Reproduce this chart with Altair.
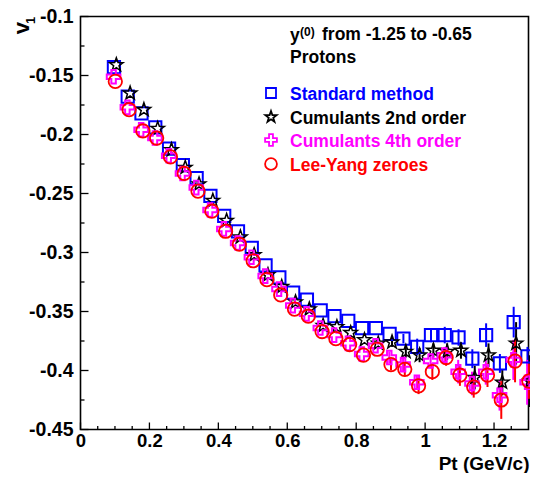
import altair as alt
import pandas as pd

# ---------------- data ----------------
PT = [0.10, 0.14, 0.18, 0.22, 0.26, 0.30, 0.34, 0.38, 0.42, 0.46, 0.50,
      0.54, 0.58, 0.62, 0.66, 0.70, 0.74, 0.78, 0.82, 0.86, 0.90, 0.94,
      0.98, 1.02, 1.06, 1.10, 1.14, 1.18, 1.22, 1.26, 1.30]

STD = [-0.143, -0.168, -0.182, -0.194, -0.212, -0.226, -0.237, -0.252, -0.269, -0.282, -0.296,
       -0.311, -0.321, -0.334, -0.340, -0.349, -0.354, -0.358, -0.364, -0.364, -0.369, -0.373,
       -0.380, -0.370, -0.370, -0.372, -0.390, -0.370, -0.394, -0.359, -0.388]
STD_ERR = [0, 0, 0, 0, 0, 0, 0, 0, 0, 0, 0,
           0, 0, 0, 0, 0, 0, 0, 0, 0, 0, 0.004,
           0.007, 0.006, 0.007, 0.007, 0.008, 0.010, 0.008, 0.013, 0.008]

C2 = [-0.141, -0.165, -0.179, -0.195, -0.213, -0.228, -0.242, -0.256, -0.273, -0.287, -0.302,
      -0.319, -0.329, -0.342, -0.348, -0.362, -0.363, -0.368, -0.374, -0.377, -0.376, -0.384,
      -0.387, -0.383, -0.384, -0.383, -0.406, -0.387, -0.410, -0.377, -0.409]
C2_ERR = [0, 0, 0, 0, 0, 0, 0, 0, 0, 0, 0,
          0, 0, 0, 0, 0, 0, 0, 0, 0, 0.004, 0.005,
          0.006, 0.006, 0.007, 0.007, 0.010, 0.010, 0.011, 0.018, 0.022]

C4 = [-0.151, -0.177, -0.196, -0.203, -0.218, -0.233, -0.245, -0.264, -0.280, -0.292, -0.304,
      -0.320, -0.331, -0.345, -0.352, -0.364, -0.370, -0.377, -0.386, -0.379, -0.389, -0.395,
      -0.410, -0.392, -0.387, -0.401, -0.411, -0.401, -0.421, -0.391, -0.410]
C4_ERR = [0, 0, 0, 0, 0, 0, 0, 0, 0, 0, 0,
          0, 0, 0, 0, 0, 0, 0, 0, 0, 0.005, 0.006,
          0.006, 0.006, 0.007, 0.010, 0.010, 0.011, 0.013, 0.017, 0.019]

LYZ = [-0.155, -0.179, -0.197, -0.203, -0.219, -0.233, -0.248, -0.265, -0.282, -0.293, -0.307,
       -0.323, -0.336, -0.348, -0.354, -0.367, -0.373, -0.378, -0.387, -0.382, -0.395, -0.399,
       -0.413, -0.401, -0.389, -0.404, -0.414, -0.404, -0.425, -0.392, -0.409]
LYZ_ERR = [0, 0, 0, 0, 0, 0, 0, 0, 0, 0, 0,
           0, 0, 0, 0, 0, 0, 0, 0, 0, 0.005, 0.006,
           0.007, 0.007, 0.007, 0.009, 0.009, 0.010, 0.016, 0.018, 0.015]

SERIES = ["Standard method", "Cumulants 2nd order", "Cumulants 4th order", "Lee-Yang zeroes"]
COLORS = ["#0000ff", "#000000", "#ff00ff", "#ff0000"]

X_MAJOR = [0, 0.2, 0.4, 0.6, 0.8, 1, 1.2]
X_MINOR = [0.05, 0.1, 0.15, 0.25, 0.3, 0.35, 0.45, 0.5, 0.55, 0.65, 0.7, 0.75,
           0.85, 0.9, 0.95, 1.05, 1.1, 1.15, 1.25]
Y_MAJOR = [-0.45, -0.4, -0.35, -0.3, -0.25, -0.2, -0.15, -0.1]
Y_MINOR = [-0.425, -0.375, -0.325, -0.275, -0.225, -0.175, -0.125]

# ---------------- styling ----------------
FONT = "Liberation Sans"
W, H = 448, 413

STAR = ("M0,-1L0.235,-0.324L0.951,-0.309L0.380,0.124L0.588,0.809L0,0.4"
        "L-0.588,0.809L-0.380,0.124L-0.951,-0.309L-0.235,-0.324Z")
PLUS = ("M-0.33,-1L0.33,-1L0.33,-0.33L1,-0.33L1,0.33L0.33,0.33L0.33,1L-0.33,1"
        "L-0.33,0.33L-1,0.33L-1,-0.33L-0.33,-0.33Z")

SHAPES = ["square", STAR, PLUS, "circle"]
SIZES = [150, 200, 185, 180]
LEG_SIZES = [100, 140, 140, 140]
SW = [2.0, 1.5, 2.0, 1.8]
SHIFT = [-0.003, 0.004, -0.004, 0.001]

xscale = alt.Scale(domain=[0, 1.30], nice=False, zero=False)
yscale = alt.Scale(domain=[-0.45, -0.1], nice=False, zero=False)

XAXIS = alt.Axis(values=X_MAJOR, labelExpr="datum.value + ''",
                 title=None, grid=False, domain=False, ticks=False, tickSize=0,
                 labelPadding=2, labelFlush=False, labelOverlap=False,
                 labelFontSize=18.5, labelFont=FONT, labelFontWeight="bold",
                 labelColor="black")
YAXIS = alt.Axis(values=Y_MAJOR, labelExpr="datum.value + ''",
                 title=None, grid=False, domain=False, ticks=False, tickSize=0,
                 labelPadding=7.5, labelFlush=False, labelOverlap=False,
                 labelFontSize=19.5, labelFont=FONT, labelFontWeight="bold",
                 labelColor="black")


def X(field):
    return alt.X(field, scale=xscale, axis=XAXIS, title=None)


def Y(field):
    return alt.Y(field, scale=yscale, axis=YAXIS, title=None)


values = [STD, C2, C4, LYZ]
errors = [STD_ERR, C2_ERR, C4_ERR, LYZ_ERR]

layers = []


# inward tick marks
def yticks(vals, length):
    return alt.Chart(pd.DataFrame({"v": vals})).mark_rule(color="black", strokeWidth=1.3).encode(
        y=Y("v:Q"), x=alt.value(0), x2=alt.value(length))


def xticks(vals, length):
    return alt.Chart(pd.DataFrame({"v": vals})).mark_rule(color="black", strokeWidth=1.3).encode(
        x=X("v:Q"), y=alt.value(H), y2=alt.value(H - length))


layers += [yticks(Y_MAJOR, 8), yticks(Y_MINOR, 4), xticks(X_MAJOR, 7), xticks(X_MINOR, 3.5)]

# data: error bars then markers
for i, name in enumerate(SERIES):
    df = pd.DataFrame({
        "x": [p + SHIFT[i] for p in PT],
        "y": values[i],
        "e": errors[i],
    })
    df["lo"] = df["y"] - df["e"]
    df["hi"] = df["y"] + df["e"]
    dfe = df[df["e"] > 0]
    layers.append(
        alt.Chart(dfe).mark_rule(color=COLORS[i], strokeWidth=2).encode(
            x=X("x:Q"), y=Y("lo:Q"), y2="hi:Q",
        )
    )
for i, name in enumerate(SERIES):
    df = pd.DataFrame({"x": [p + SHIFT[i] for p in PT], "y": values[i]})
    layers.append(
        alt.Chart(df).mark_point(shape=SHAPES[i], filled=False, size=SIZES[i],
                                 color=COLORS[i], strokeWidth=SW[i], opacity=1).encode(
            x=X("x:Q"), y=Y("y:Q"),
        )
    )

one = pd.DataFrame({"a": [0]})


def label(text, x, y, size=17.5, color="black", align="left", baseline="alphabetic", angle=0):
    return alt.Chart(one).mark_text(text=text, font=FONT, fontWeight="bold", fontSize=size,
                                    color=color, align=align, baseline=baseline,
                                    angle=angle).encode(x=alt.value(x), y=alt.value(y))


# header text
layers.append(label("y", 209.5, 24))
layers.append(label("(0)", 219.5, 19, size=12))
layers.append(label("from -1.25 to -0.65", 241.5, 23))
layers.append(label("Protons", 209.5, 46))

# legend
LEG_Y = [76.5, 100.5, 123.5, 147.5]
for i, name in enumerate(SERIES):
    layers.append(
        alt.Chart(one).mark_point(shape=SHAPES[i], filled=False, size=LEG_SIZES[i],
                                  color=COLORS[i], strokeWidth=1.8, opacity=1).encode(
            x=alt.value(190.5), y=alt.value(LEG_Y[i]))
    )
    layers.append(label(name, 209.5, LEG_Y[i] + 6.5, color=COLORS[i]))

# axis titles
layers.append(label("Pt (GeV/c)", 449, 453, size=19, align="right"))
layers.append(label("v", -59, 11.5, size=22, align="center", baseline="middle", angle=270))
layers.append(label("1", -49.5, 4, size=13, align="center", baseline="middle", angle=270))

chart = alt.layer(*layers).properties(
    width=W, height=H,
    autosize=alt.AutoSizeParams(type="none"),
    padding={"left": 72.5, "top": 8.5, "right": 1.5, "bottom": 43.5},
    background="white",
).configure_view(stroke="black", strokeWidth=1.6)

chart.save("out.html", embed_options={"renderer": "svg", "actions": False})
